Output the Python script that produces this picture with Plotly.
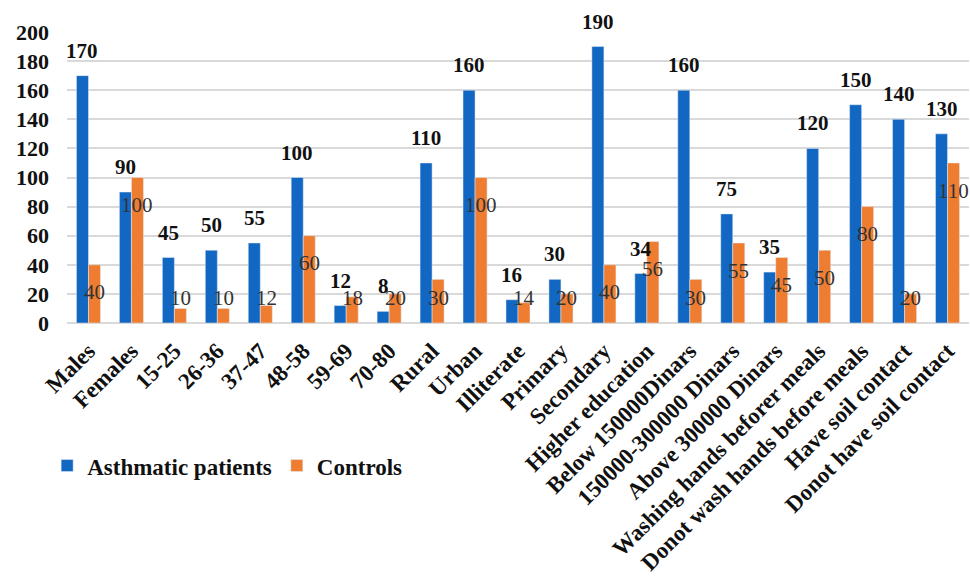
import plotly.graph_objects as go

categories = ["Males", "Females", "15-25", "26-36", "37-47", "48-58", "59-69", "70-80",
              "Rural", "Urban", "Illiterate", "Primary", "Secondary", "Higher education",
              "Below 150000Dinars", "150000-300000 Dinars", "Above 300000 Dinars",
              "Washing hands beforer meals", "Donot wash hands before meals",
              "Have soil contact", "Donot have soil contact"]
asthmatic = [170, 90, 45, 50, 55, 100, 12, 8, 110, 160, 16, 30, 190, 34, 160, 75, 35, 120, 150, 140, 130]
controls = [40, 100, 10, 10, 12, 60, 18, 20, 30, 100, 14, 20, 40, 56, 30, 55, 45, 50, 80, 20, 110]
y_ticks = list(range(0, 201, 20))

BLUE = "#1167c1"
ORANGE = "#ee7d31"
FONT = "Liberation Serif"
BARGAP = 0.44

fig = go.Figure()
fig.add_trace(go.Bar(name="Asthmatic patients", x=categories, y=asthmatic, marker_color=BLUE))
fig.add_trace(go.Bar(name="Controls", x=categories, y=controls, marker_color=ORANGE))

off = (1 - BARGAP) / 4
annotations = []
for i, (a, c) in enumerate(zip(asthmatic, controls)):
    annotations.append(dict(x=i - off, y=a, xref="x", yref="y", text=f"<b>{a}</b>",
                            showarrow=False, yshift=25, yanchor="middle",
                            font=dict(family=FONT, size=21, color="#111")))
    annotations.append(dict(x=i + off, y=max(c - 19, 17), xref="x", yref="y", text=str(c),
                            showarrow=False, yanchor="middle",
                            font=dict(family=FONT, size=21, color="#333")))

fig.update_layout(
    width=970, height=576,
    margin=dict(l=67, r=1, t=32, b=253),
    barmode="group", bargap=BARGAP, bargroupgap=0,
    plot_bgcolor="white", paper_bgcolor="white",
    font=dict(family=FONT, size=21, color="#111"),
    annotations=annotations,
    legend=dict(orientation="h", x=-0.022, xanchor="left", y=-0.49, yanchor="middle",
                font=dict(family=FONT, size=23, color="#111", weight="bold"),
                itemwidth=30),
    xaxis=dict(tickangle=-45, tickfont=dict(family=FONT, size=23, color="#111", weight="bold"),
               showgrid=False, showline=False, ticks="", ticklabelstandoff=9,
               range=[-0.5, len(categories) - 0.5]),
    yaxis=dict(range=[0, 200], tickvals=y_ticks, showgrid=True, gridcolor="#d9d9d9", gridwidth=2,
               zeroline=True, zerolinecolor="#d9d9d9", zerolinewidth=2,
               tickfont=dict(family=FONT, size=22, color="#111", weight="bold"),
               ticklabelstandoff=17),
    showlegend=True,
)

fig.write_html("out.html")
